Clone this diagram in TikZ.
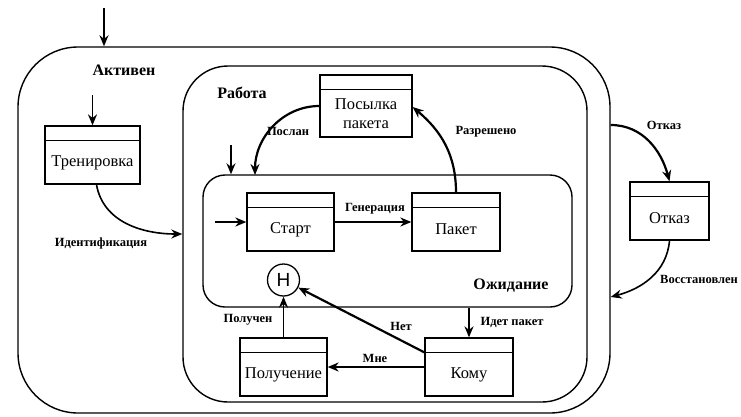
\documentclass[tikz,border=0pt]{standalone}
\usepackage{fontspec}
\setmainfont{Liberation Serif}
\newfontfamily\tmfont{Liberation Serif}
\newfontfamily\hfont{Liberation Sans}
\usetikzlibrary{arrows.meta}
\tikzset{
  st/.style={draw, line width=1.3pt, minimum width=88pt, minimum height=58pt, inner sep=0pt,
    path picture={\draw[line width=1.2pt]
      ([yshift=-14.5pt]path picture bounding box.north west) --
      ([yshift=-14.5pt]path picture bounding box.north east);}},
  stname/.style={font=\tmfont\fontsize{16.5}{19}\selectfont, align=center, inner sep=0pt},
  comp/.style={draw, line width=1.4pt, inner sep=0pt},
  ttl/.style={font=\tmfont\bfseries\fontsize{16}{18}\selectfont, inner sep=0pt},
  lbl/.style={font=\tmfont\bfseries\fontsize{12.5}{14}\selectfont, inner sep=0pt},
  arr/.style={line width=2.2pt, -{Stealth[length=11pt,width=9pt]}},
  tarr/.style={line width=1.6pt, -{Stealth[length=11pt,width=9pt]}},
  hist/.style={draw, circle, line width=1.3pt, minimum size=32pt, inner sep=0pt,
    font=\hfont\fontsize{19}{19}\selectfont}
}
\begin{document}
\begin{tikzpicture}[x=1pt, y=-1pt]
\useasboundingbox (0,0) rectangle (741,416);

% composite states
\node[comp, rounded corners=60pt, minimum width=592pt, minimum height=366pt] (active) at (314,230) {};
\node[comp, rounded corners=45pt, minimum width=404pt, minimum height=336pt] (work) at (385,234) {};
\node[comp, rounded corners=22pt, minimum width=369pt, minimum height=132pt] (wait) at (387.5,241) {};

\node[ttl] (activeT) at (124,70) {Активен};
\node[ttl] (workT) at (242,93) {Работа};
\node[ttl] (waitT) at (511,286) {Ожидание};

% simple states
\node[st, minimum width=95pt] (tren) at (92.5,155) {};
\node[stname] (trenT) at ([yshift=-7.5pt]tren.center) {Тренировка};
\node[st, minimum width=92pt, minimum height=62pt] (post) at (366,106) {};
\node[stname] (postT) at ([yshift=-7.5pt]post.center) {Посылка\\пакета};
\node[st, minimum width=87pt] (start) at (290.5,222) {};
\node[stname] (startT) at ([yshift=-7.5pt]start.center) {Старт};
\node[st] (paket) at (456,222) {};
\node[stname] (paketT) at ([yshift=-7.5pt]paket.center) {Пакет};
\node[st, minimum width=79pt] (otk) at (669.5,211) {};
\node[stname] (otkT) at ([yshift=-7.5pt]otk.center) {Отказ};
\node[st, minimum width=87pt] (pol) at (283.5,367) {};
\node[stname] (polT) at ([yshift=-7.5pt]pol.center) {Получение};
\node[st] (kom) at (469,367) {};
\node[stname] (komT) at ([yshift=-7.5pt]kom.center) {Кому};

\node[hist] (H) at (283.5,280) {H};

% initial arrows
\coordinate (topin) at (104,8);
\draw[tarr] (topin) -- (topin |- active.north);
\coordinate (trenin) at (92.5,95);
\draw[tarr] (trenin) -- (tren.north);
\coordinate (waitin) at (231,145);
\draw[tarr] (waitin) -- (waitin |- wait.north);
\coordinate (startin) at (215,222);
\draw[arr] (startin) -- (start.west);

% transitions
\draw[tarr] ([xshift=4pt]tren.south) to[out=-80,in=180] (work.west);
\coordinate (sent) at (255,175);
\draw[arr] (post.west) to[out=180,in=90] (sent);
\draw[arr] (paket.north) to[out=90,in=-40] ([yshift=-1pt]post.east);
\draw[arr] (start.east) -- (paket.west);
\draw[arr] ([yshift=105pt]active.east) to[out=0,in=105] (otk.north);
\draw[tarr] (otk.south) to[out=-95,in=15] ([yshift=-67pt]active.east);
\draw[arr] (kom.north |- wait.south) -- (kom.north);
\draw[arr] ([yshift=-15pt]kom.north west) -- (H);
\draw[arr] (kom.west) -- (pol.east);
\draw[tarr] (pol.north) -- (H.south);

% transition labels
\node[lbl] (lSent) at (288,131) {Послан};
\node[lbl] (lAllow) at (486,132) {Разрешено};
\node[lbl] (lGen) at (375,209) {Генерация};
\node[lbl] (lIdent) at (101,243) {Идентификация};
\node[lbl] (lFail) at (664,125) {Отказ};
\node[lbl, anchor=west] (lRest) at (660,279) {Восстановлен};
\node[lbl] (lGot) at (248,320) {Получен};
\node[lbl] (lNo) at (401,326) {Нет};
\node[lbl] (lMe) at (375,358) {Мне};
\node[lbl] (lGo) at (512,322) {Идет пакет};
\end{tikzpicture}
\end{document}
